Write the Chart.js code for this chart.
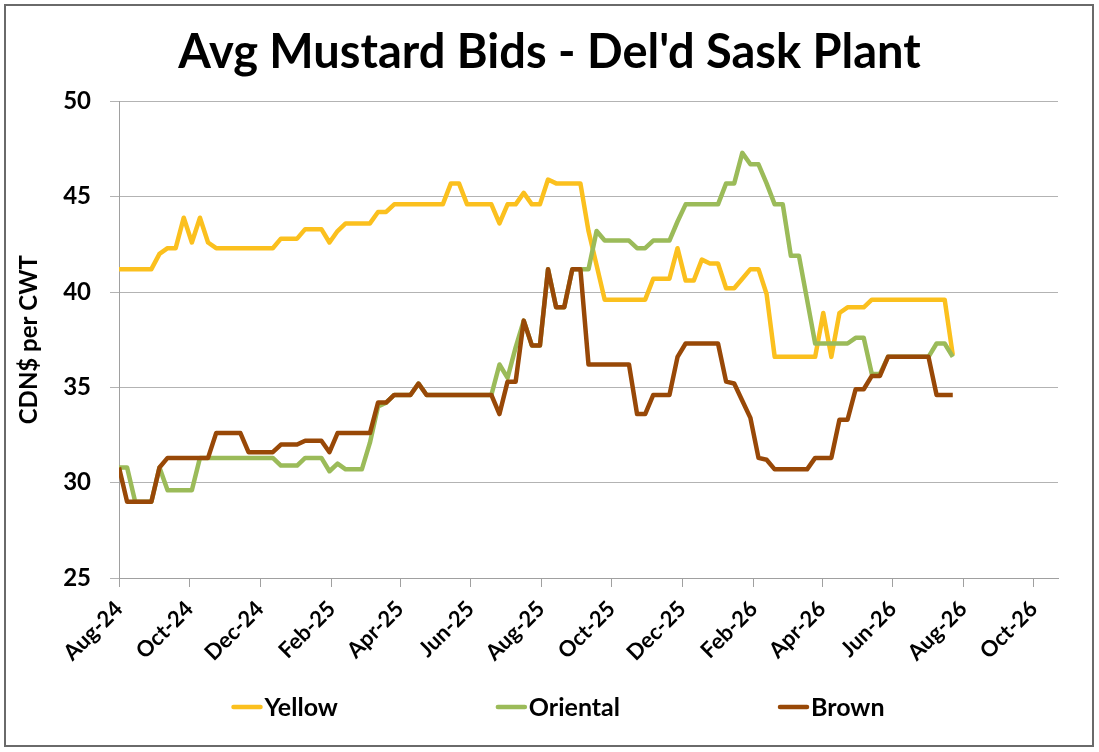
<!DOCTYPE html>
<html>
<head>
<meta charset="utf-8">
<script src="https://cdn.jsdelivr.net/npm/chart.js@4.4.1/dist/chart.umd.min.js"></script>
<style>
  html, body { margin: 0; background: #fff; }
  canvas { display: block; }
</style>
</head>
<body>
<canvas id="grafico" width="1099" height="752"></canvas>
<script>
// tick labels on the date axis (every 2 months)
const tickLabels = ['Aug-24', 'Oct-24', 'Dec-24', 'Feb-25', 'Apr-25', 'Jun-25', 'Aug-25',
                    'Oct-25', 'Dec-25', 'Feb-26', 'Apr-26', 'Jun-26', 'Aug-26', 'Oct-26'];
const seriesNames = ['Yellow', 'Oriental', 'Brown'];
const seriesColors = ['#FBC01E', '#9BBB59', '#984807'];

// weekly bids, CDN$ per CWT, first week = Aug-24
const yellow = [41.2, 41.2, 41.2, 41.2, 41.2, 42.0, 42.3, 42.3, 43.9, 42.6, 43.9, 42.6,
  42.3, 42.3, 42.3, 42.3, 42.3, 42.3, 42.3, 42.3, 42.8, 42.8, 42.8, 43.3, 43.3, 43.3,
  42.6, 43.2, 43.6, 43.6, 43.6, 43.6, 44.2, 44.2, 44.6, 44.6, 44.6, 44.6, 44.6, 44.6, 44.6,
  45.7, 45.7, 44.6, 44.6, 44.6, 44.6, 43.6, 44.6, 44.6, 45.2, 44.6, 44.6, 45.9,
  45.7, 45.7, 45.7, 45.7, 43.2, 41.4, 39.6, 39.6, 39.6, 39.6, 39.6, 39.6, 40.7, 40.7, 40.7,
  42.3, 40.6, 40.6, 41.7, 41.5, 41.5, 40.2, 40.2, 40.7, 41.2, 41.2, 39.9,
  36.6, 36.6, 36.6, 36.6, 36.6, 36.6, 38.9, 36.6, 38.9, 39.2, 39.2, 39.2,
  39.6, 39.6, 39.6, 39.6, 39.6, 39.6, 39.6, 39.6, 39.6, 39.6, 36.7];
const oriental = [30.8, 30.8, 29.0, 29.0, 29.0, 30.8, 29.6, 29.6, 29.6, 29.6,
  31.3, 31.3, 31.3, 31.3, 31.3, 31.3, 31.3, 31.3, 31.3, 31.3, 30.9, 30.9, 30.9, 31.3, 31.3, 31.3,
  30.6, 31.0, 30.7, 30.7, 30.7, 32.1, 34.0, 34.2, 34.6, 34.6, 34.6, 35.2,
  34.6, 34.6, 34.6, 34.6, 34.6, 34.6, 34.6, 34.6, 34.6, 36.2, 35.5, 37.1, 38.5, 37.2, 37.2,
  41.2, 39.2, 39.2, 41.2, 41.2, 41.2, 43.2, 42.7, 42.7, 42.7, 42.7, 42.3, 42.3, 42.7, 42.7, 42.7,
  43.7, 44.6, 44.6, 44.6, 44.6, 44.6, 45.7, 45.7, 47.3, 46.7, 46.7, 45.7, 44.6, 44.6, 41.9, 41.9,
  39.6, 37.3, 37.3, 37.3, 37.3, 37.3, 37.6, 37.6, 35.7, 35.7,
  36.6, 36.6, 36.6, 36.6, 36.6, 36.6, 37.3, 37.3, 36.6];
const brown = [30.8, 29.0, 29.0, 29.0, 29.0, 30.8, 31.3, 31.3, 31.3, 31.3, 31.3, 31.3,
  32.6, 32.6, 32.6, 32.6, 31.6, 31.6, 31.6, 31.6, 32.0, 32.0, 32.0, 32.2, 32.2, 32.2,
  31.6, 32.6, 32.6, 32.6, 32.6, 32.6, 34.2, 34.2, 34.6, 34.6, 34.6, 35.2,
  34.6, 34.6, 34.6, 34.6, 34.6, 34.6, 34.6, 34.6, 34.6, 33.6, 35.3, 35.3, 38.5, 37.2, 37.2,
  41.2, 39.2, 39.2, 41.2, 41.2, 36.2, 36.2, 36.2, 36.2, 36.2, 36.2, 33.6, 33.6, 34.6, 34.6, 34.6,
  36.6, 37.3, 37.3, 37.3, 37.3, 37.3, 35.3, 35.2, 34.3, 33.4, 31.3, 31.2,
  30.7, 30.7, 30.7, 30.7, 30.7, 31.3, 31.3, 31.3, 33.3, 33.3, 34.9, 34.9, 35.6, 35.6,
  36.6, 36.6, 36.6, 36.6, 36.6, 36.6, 34.6, 34.6, 34.6];

const yMin = 25, yMax = 50, yStep = 5;
const axisEndDay = 812;
const weekDays = 7;

const meses = {Jan: 0, Feb: 1, Mar: 2, Apr: 3, May: 4, Jun: 5, Jul: 6, Aug: 7, Sep: 8, Oct: 9, Nov: 10, Dec: 11};
const origen = Date.UTC(2024, 7, 1);
const diaDe = lbl => {
  const [m, y] = lbl.split('-');
  return Math.round((Date.UTC(2000 + Number(y), meses[m], 1) - origen) / 864e5);
};
const tickDays = tickLabels.map(diaDe);
const puntos = arr => arr.map((v, i) => ({x: i * weekDays, y: v}));

Chart.defaults.font.family = 'Lato';
Chart.defaults.color = '#000';

const marco = {
  id: 'marco',
  beforeDraw(chart) {
    const ctx = chart.ctx;
    ctx.save();
    ctx.fillStyle = '#fff';
    ctx.fillRect(0, 0, chart.width, chart.height);
    ctx.restore();
  },
  afterDraw(chart) {
    const ctx = chart.ctx;
    ctx.save();
    ctx.strokeStyle = '#6a6a6a';
    ctx.lineWidth = 2;
    ctx.strokeRect(5, 5, chart.width - 11, chart.height - 11);
    ctx.restore();
  }
};

// leyenda con línea corta, como en Excel
const leyenda = {
  id: 'leyenda',
  afterDraw(chart) {
    const ctx = chart.ctx;
    ctx.save();
    ctx.font = 'bold 25px Lato';
    ctx.textBaseline = 'middle';
    const muestra = 31, hueco = 2, espacio = 158;
    const items = chart.data.datasets.map(d => ({d, w: muestra + hueco + ctx.measureText(d.label).width}));
    const total = items.reduce((s, it) => s + it.w, 0) + espacio * (items.length - 1);
    let x = 558 - total / 2;
    const y = 707;
    items.forEach(it => {
      ctx.strokeStyle = it.d.borderColor;
      ctx.lineWidth = 4.5;
      ctx.lineCap = 'round';
      ctx.beginPath();
      ctx.moveTo(x + 2, y);
      ctx.lineTo(x + muestra - 2, y);
      ctx.stroke();
      ctx.fillStyle = '#000';
      ctx.fillText(it.d.label, x + muestra + hueco, y + 1);
      x += it.w + espacio;
    });
    ctx.restore();
  }
};

const series = [yellow, oriental, brown];

new Chart(document.getElementById('grafico'), {
  type: 'line',
  data: {
    datasets: series.map((arr, k) => ({
      label: seriesNames[k],
      data: puntos(arr),
      borderColor: seriesColors[k],
      backgroundColor: seriesColors[k],
      borderWidth: 4.5,
      pointRadius: 0,
      tension: 0,
      borderJoinStyle: 'round',
      order: series.length - k
    }))
  },
  options: {
    responsive: false,
    animation: false,
    devicePixelRatio: 1,
    layout: { padding: { left: 0, right: 0, top: 0, bottom: 62 } },
    plugins: {
      legend: { display: false },
      tooltip: { enabled: false },
      title: {
        display: true,
        text: 'Avg Mustard Bids - Del\'d Sask Plant',
        color: '#000',
        font: { size: 47, weight: 'bold' },
        padding: { top: 25, bottom: 20 }
      }
    },
    scales: {
      x: {
        type: 'linear',
        min: 0,
        max: axisEndDay,
        afterBuildTicks: s => { s.ticks = tickDays.map(v => ({value: v})); },
        afterFit: s => { s.height = 112; },
        ticks: {
          autoSkip: false,
          minRotation: 45,
          maxRotation: 45,
          padding: 9,
          color: '#000',
          font: { size: 22, weight: 'bold' },
          callback: (v, i) => tickLabels[i]
        },
        grid: { drawOnChartArea: false, drawTicks: true, tickLength: 9, color: '#a0a0a0' },
        border: { color: '#a0a0a0' }
      },
      y: {
        min: yMin,
        max: yMax,
        afterFit: s => { s.width = 119; },
        ticks: { stepSize: yStep, padding: 19, color: '#000', font: { size: 24, weight: 'bold' } },
        grid: { color: '#b3b3b3', tickLength: 9 },
        border: { color: '#a0a0a0' },
        title: {
          display: true,
          text: 'CDN$ per CWT',
          color: '#000',
          font: { size: 24, weight: 'bold' },
          padding: { top: 15, bottom: 0 }
        }
      },
      // eje vacío a la derecha: solo reserva el margen
      margenDer: {
        position: 'right',
        afterFit: s => { s.width = 41; },
        ticks: { display: false },
        grid: { display: false },
        border: { display: false }
      }
    }
  },
  plugins: [marco, leyenda]
});
</script>
</body>
</html>
